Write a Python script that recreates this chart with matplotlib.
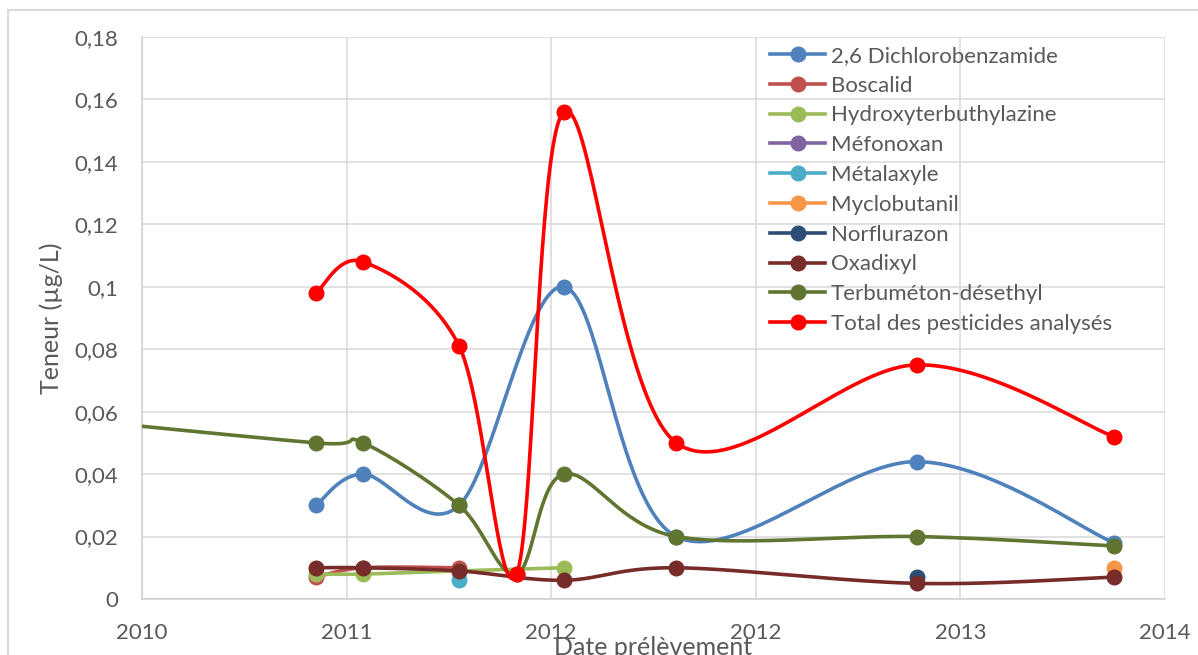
import numpy as np
import matplotlib
matplotlib.use("Agg")
import matplotlib.pyplot as plt
import matplotlib.dates as mdates
from matplotlib.lines import Line2D
from matplotlib.patches import Rectangle
import datetime as dt

plt.rcParams['font.family'] = ['Lato', 'DejaVu Sans']

# ---- data ----
dates = ["2010-04-22", "2011-04-10", "2011-06-09", "2011-10-09", "2011-12-21",
         "2012-02-19", "2012-07-11", "2013-05-13", "2014-01-18"]
N = None
series_names = ["2,6 Dichlorobenzamide", "Boscalid", "Hydroxyterbuthylazine", "Méfonoxan",
                "Métalaxyle", "Myclobutanil", "Norflurazon", "Oxadixyl",
                "Terbuméton-désethyl", "Total des pesticides analysés"]
dichlorobenzamide = [N, 0.030, 0.040, 0.030, N, 0.100, 0.020, 0.044, 0.018]
boscalid          = [N, 0.007, 0.010, 0.010, N, N, N, N, N]
hydroxyterbuth    = [N, 0.008, 0.008, 0.009, N, 0.010, N, N, N]
mefonoxan         = [N, N, N, N, N, N, N, N, N]
metalaxyle        = [N, N, N, 0.006, N, N, N, N, N]
myclobutanil      = [N, N, N, N, N, N, N, N, 0.010]
norflurazon       = [N, N, N, N, N, N, N, 0.007, N]
oxadixyl          = [N, 0.010, 0.010, 0.009, N, 0.006, 0.010, 0.005, 0.007]
terbumeton        = [0.0586, 0.050, 0.050, 0.030, 0.008, 0.040, 0.020, 0.020, 0.017]
total             = [N, 0.098, 0.108, 0.081, 0.008, 0.156, 0.050, 0.075, 0.052]
series_values = [dichlorobenzamide, boscalid, hydroxyterbuth, mefonoxan, metalaxyle,
                 myclobutanil, norflurazon, oxadixyl, terbumeton, total]
colors = ["#4F81BD", "#C0504D", "#9BBB59", "#8064A2", "#4BACC6",
          "#F79646", "#2C4D75", "#772C2A", "#5F7530", "#FF0000"]

ytick_vals = [0, 0.02, 0.04, 0.06, 0.08, 0.10, 0.12, 0.14, 0.16, 0.18]
ytick_labels = ["0", "0,02", "0,04", "0,06", "0,08", "0,1", "0,12", "0,14", "0,16", "0,18"]
axis_start = "2010-09-01"
axis_unit_days = 260
n_xticks = 6

# ---- figure ----
W, H = 1198, 655
fig = plt.figure(figsize=(W / 100, H / 100), dpi=100)
fig.patches.append(Rectangle((8 / W, -0.1), 1.2, (H - 10) / H + 0.1, transform=fig.transFigure,
                             fill=False, edgecolor="#D9D9D9", linewidth=1.5))
L, R, T, B = 142, 1165, 37, 599
ax = fig.add_axes([L / W, 1 - B / H, (R - L) / W, (B - T) / H])

x0 = mdates.date2num(dt.datetime.fromisoformat(axis_start))
xticks = [x0 + k * axis_unit_days for k in range(n_xticks)]
ax.set_xlim(xticks[0], xticks[-1])
ax.set_ylim(0, 0.18)
ax.set_xticks(xticks)
ax.xaxis.set_major_formatter(mdates.DateFormatter("%Y"))
ax.set_yticks(ytick_vals)
ax.set_yticklabels(ytick_labels)
ax.grid(True, color="#D9D9D9", linewidth=1.1)
ax.set_axisbelow(True)
for s in ["top", "right"]:
    ax.spines[s].set_visible(False)
for s in ["left", "bottom"]:
    ax.spines[s].set_color("#D0D0D0")
    ax.spines[s].set_linewidth(1.1)
ax.tick_params(length=0, labelsize=16, labelcolor="#595959")
ax.tick_params(axis='x', pad=17)
ax.tick_params(axis='y', pad=17)

ax.set_ylabel("Teneur (µg/L)", fontsize=18, color="#595959")
ax.yaxis.set_label_coords((63 - L) / (R - L), 0.5)
ax.set_xlabel("Date prélèvement", fontsize=18, color="#595959")
ax.xaxis.set_label_coords((653 - L) / (R - L), (B - 636) / (B - T))

xnum = np.array([mdates.date2num(dt.datetime.fromisoformat(d)) for d in dates])


def smooth(xs, ys, n=40):
    pts = ax.transData.transform(np.column_stack([xs, ys]))
    m = len(pts)
    if m < 2:
        return xs, ys
    out = [pts[0]]
    for i in range(m - 1):
        p0 = pts[i - 1] if i > 0 else pts[i]
        p1 = pts[i]
        p2 = pts[i + 1]
        p3 = pts[i + 2] if i + 2 < m else pts[i + 1]
        c1 = p1 + (p2 - p0) / 6.0
        c2 = p2 - (p3 - p1) / 6.0
        t = np.linspace(0, 1, n)[1:, None]
        seg = ((1 - t) ** 3) * p1 + 3 * ((1 - t) ** 2) * t * c1 + 3 * (1 - t) * t ** 2 * c2 + t ** 3 * p2
        out.extend(seg)
    out = np.array(out)
    d = ax.transData.inverted().transform(out)
    return d[:, 0], d[:, 1]


handles = []
for k, (name, vals, col) in enumerate(zip(series_names, series_values, colors)):
    mask = np.array([v is not None for v in vals])
    xs = xnum[mask]
    ys = np.array([v for v in vals if v is not None], dtype=float)
    if len(xs) > 1:
        sx, sy = smooth(xs, ys)
        ax.plot(sx, sy, color=col, linewidth=2.6, zorder=3 + k * 0.1, solid_capstyle="round",
                clip_on=True)
    if len(xs) > 0:
        inside = (xs >= xticks[0]) & (xs <= xticks[-1])
        ax.plot(xs[inside], ys[inside], linestyle="none", marker="o", markersize=10.5,
                color=col, zorder=3.05 + k * 0.1, clip_on=False)
    handles.append(Line2D([], [], color=col, linewidth=2.6, marker="o", markersize=10.5))

leg = ax.legend(handles, series_names, loc="upper left",
                bbox_to_anchor=(761 / W, 1 - 37 / H), bbox_transform=fig.transFigure,
                frameon=False, fontsize=16, labelcolor="#595959",
                handlelength=2.5, handletextpad=0.25, labelspacing=0.44, borderaxespad=0)

fig.savefig("out.png", dpi=100)
